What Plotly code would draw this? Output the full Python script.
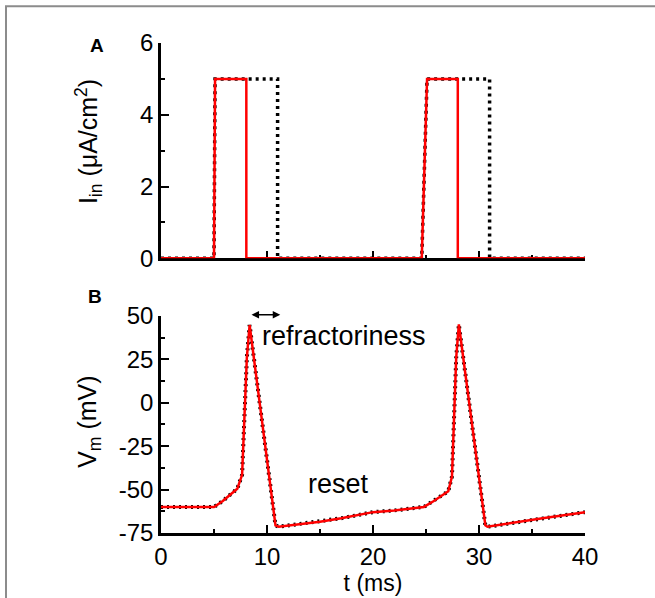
import plotly.graph_objects as go

# ---- data ----
# Panel A: input current pulses
t_in_red = [0, 5, 5.1, 8.05, 8.05, 24.6, 25.1, 28, 28, 40]
i_in_red = [0, 0, 5, 5, 0, 0, 5, 5, 0, 0]
t_in_ctrl = [0, 5, 5.1, 11, 11, 24.6, 25.1, 31, 31, 40]
i_in_ctrl = [0, 0, 5, 5, 0, 0, 5, 5, 0, 0]

# Panel B: membrane potential
t_v = [0, 5, 5.8, 7.2, 7.65, 7.9, 8.1, 8.36, 9.7, 10.8, 11.1, 13, 15, 17, 20, 22,
       24.8, 25.7, 27.1, 27.45, 27.65, 27.85, 28.1, 30.6, 30.8, 33.6, 36, 40]
v_m = [-60, -60, -56.7, -49.5, -41.5, -6, 26, 44.7, -19, -70.6, -71.4, -70, -68.5, -66.5, -63, -62,
       -60, -56.7, -51, -42.5, -6, 26, 45, -70.6, -71.4, -68.7, -66.5, -63]

x_ticks = [0, 10, 20, 30, 40]
yA_ticks = [0, 2, 4, 6]
yB_ticks = [-75, -50, -25, 0, 25, 50]
yB_labels = ["-75", "-50", "-25", "0", "25", "50"]

FONT = "Liberation Sans, Arial, sans-serif"
RED = "#ff0000"

fig = go.Figure()

# Panel A
fig.add_trace(go.Scatter(x=t_in_ctrl, y=i_in_ctrl, mode="lines", xaxis="x", yaxis="y",
                         line=dict(color="black", width=3.5, dash="3px,4px"), cliponaxis=False,
                         showlegend=False))
fig.add_trace(go.Scatter(x=t_in_red, y=i_in_red, mode="lines", xaxis="x", yaxis="y",
                         line=dict(color=RED, width=2.5), cliponaxis=False, showlegend=False))
# Panel B
fig.add_trace(go.Scatter(x=t_v, y=v_m, mode="lines", xaxis="x2", yaxis="y2",
                         line=dict(color="black", width=4, dash="2px,4px"), cliponaxis=False,
                         showlegend=False))
fig.add_trace(go.Scatter(x=t_v, y=v_m, mode="lines", xaxis="x2", yaxis="y2",
                         line=dict(color=RED, width=2.5), cliponaxis=False, showlegend=False))

tickfont = dict(family=FONT, size=24, color="black")
common = dict(showline=True, linecolor="black", linewidth=2.5, ticks="inside", ticklen=8,
              tickwidth=2, tickcolor="black", showgrid=False, zeroline=False,
              tickfont=tickfont, layer="below traces")

fig.update_layout(
    width=655, height=598,
    margin=dict(l=161, r=70, t=43, b=61),
    paper_bgcolor="white", plot_bgcolor="white",
    xaxis=dict(common, domain=[0, 1], range=[0, 40], tickvals=x_ticks, showticklabels=False,
               anchor="y",
               minor=dict(ticks="inside", ticklen=4, tickwidth=2, tickcolor="black", dtick=5, showgrid=False)),
    yaxis=dict(common, domain=[0.5607, 1], range=[0, 6], tickvals=yA_ticks, anchor="x",
               minor=dict(ticks="inside", ticklen=4, tickwidth=2, tickcolor="black", dtick=1, showgrid=False)),
    xaxis2=dict(common, domain=[0, 1], range=[0, 40], tickvals=x_ticks, anchor="y2",
                minor=dict(ticks="inside", ticklen=4, tickwidth=2, tickcolor="black", dtick=5, showgrid=False),
                title=dict(text="t (ms)", font=dict(family=FONT, size=23, color="black"), standoff=0)),
    yaxis2=dict(common, domain=[0, 0.4433], range=[-75, 50], tickvals=yB_ticks, ticktext=yB_labels,
                anchor="x2",
                minor=dict(ticks="inside", ticklen=4, tickwidth=2, tickcolor="black", dtick=12.5, showgrid=False)),
)

ann_font = dict(family=FONT, size=27, color="black")
fig.add_annotation(text="I<sub>in</sub> (μA/cm<sup>2</sup>)", xref="paper", yref="paper",
                   x=-0.17, y=(537 - 142) / 494, textangle=-90, showarrow=False,
                   font=dict(family=FONT, size=25, color="black"), xanchor="center", yanchor="middle")
fig.add_annotation(text="V<sub>m</sub> (mV)", xref="paper", yref="paper",
                   x=-0.17, y=(537 - 425) / 494, textangle=-90, showarrow=False,
                   font=dict(family=FONT, size=25, color="black"), xanchor="center", yanchor="middle")
fig.add_annotation(text="<b>A</b>", xref="paper", yref="paper", x=(88 - 161) / 424, y=(537 - 33) / 494,
                   showarrow=False, font=dict(family=FONT, size=19, color="black"))
fig.add_annotation(text="<b>B</b>", xref="paper", yref="paper", x=(86 - 161) / 424, y=(537 - 299) / 494,
                   showarrow=False, font=dict(family=FONT, size=19, color="black"))
fig.add_annotation(text="refractoriness", xref="x2", yref="y2", x=17.3, y=38.6, showarrow=False,
                   font=ann_font)
fig.add_annotation(text="reset", xref="x2", yref="y2", x=16.7, y=-47, showarrow=False, font=ann_font)
fig.add_annotation(x=11.25, y=(537 - 317) / 494, ax=8.4, ay=0, xref="x2", yref="paper",
                   axref="x2", ayref="pixel",
                   text="", showarrow=True, arrowhead=2, arrowside="end+start", arrowsize=1,
                   arrowwidth=1.5, arrowcolor="black", standoff=0, startstandoff=0)

# outer frame
fig.add_shape(type="rect", xref="paper", yref="paper",
              x0=(6 - 161) / 424, x1=(665 - 161) / 424, y0=(537 - 610) / 494, y1=(537 - 6) / 494,
              line=dict(color="#8c8c8c", width=2), fillcolor="rgba(0,0,0,0)", layer="below")

fig.write_html("out.html")
